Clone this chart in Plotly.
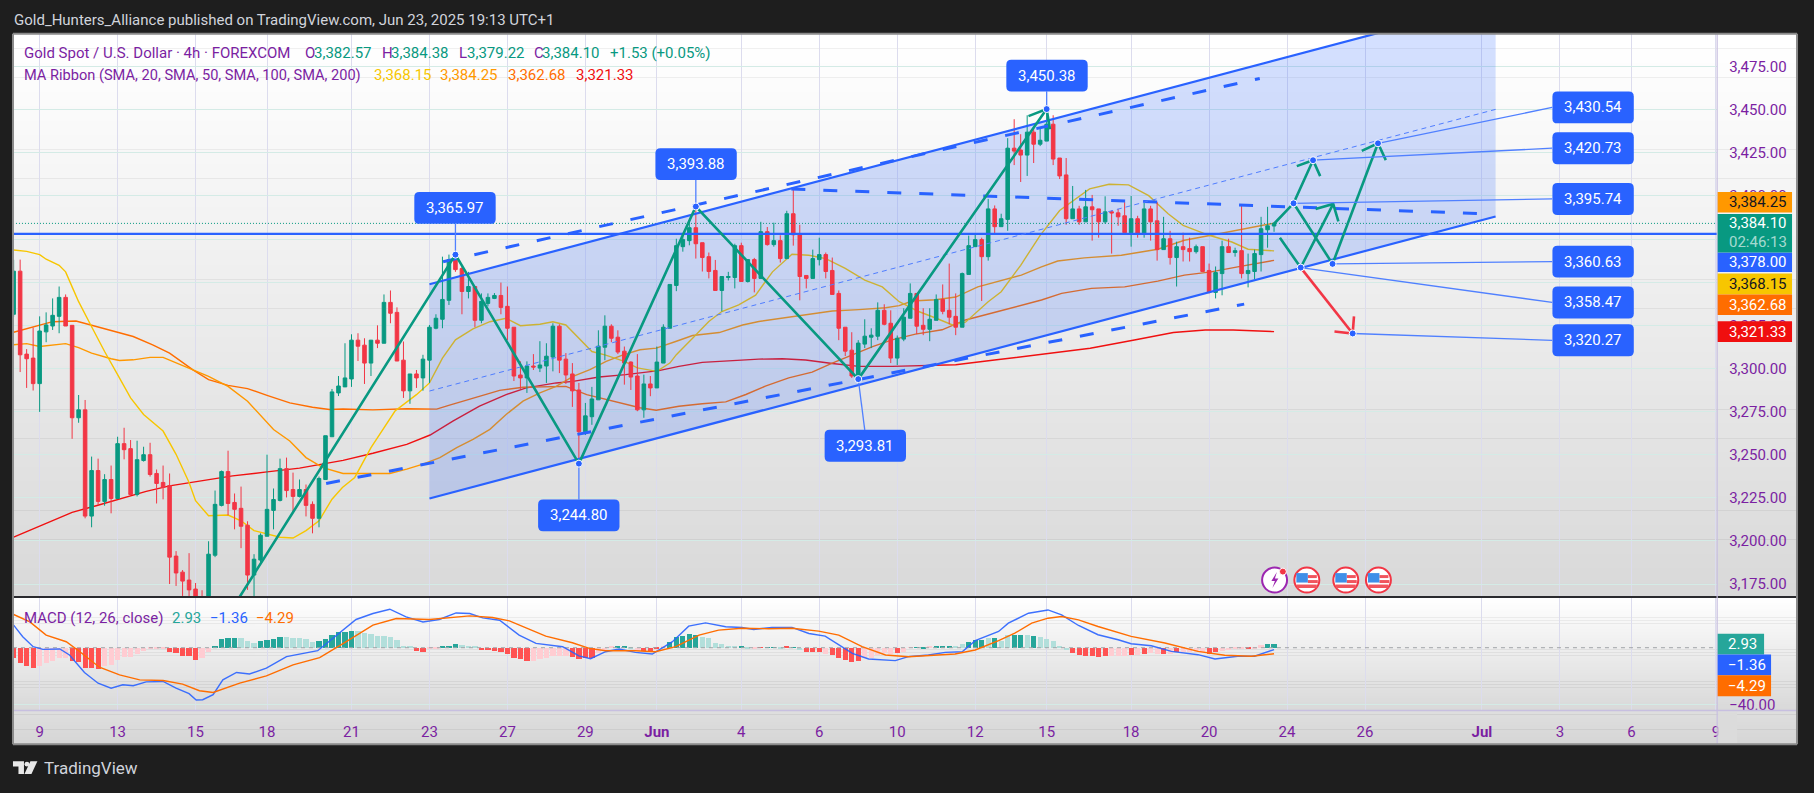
import plotly.graph_objects as go

W, H = 1814, 793
FONT = "Roboto"
PURPLE = "#7b1fa2"
GREEN = "#089981"
RED = "#f23645"
BLUE = "#2962ff"
YELLOW = "#f7c600"
ORANGE = "#ff9800"
DORANGE = "#ff6d00"
MARED = "#f01010"

# ---------------- candles ----------------
opens = [3331.4,3356.4,3308.3,3306,3291.2,3321.2,3324.6,3330.2,3341.2,3325,3271.4,3276,3214.4,3240.8,3222.9,3235.6,3224.6,3256.4,3253.5,3226.9,
3246.6,3250,3239.1,3233.9,3232.1,3191.2,3181.9,3177.3,3172.1,3165,3150,3191.7,3220.6,3240.2,3222.3,3218.9,3209.1,3180.2,3188.9,3202.7,
3217.7,3223.5,3241.9,3229.8,3225.8,3229.8,3221.2,3213.1,3235.6,3260.4,3285.8,3289.3,3293.9,3316.4,3313.5,3303.1,3316.4,3314.6,3338.3,3332.5,
3304.8,3287,3296.8,3294.5,3304.8,3323.3,3328.5,3339.5,3363.1,3357.9,3344.6,3347.5,3327.9,3337.7,3340.6,3342.3,3336,3323.9,3296.2,3294.5,
3301.4,3300.2,3301.4,3306.6,3324.5,3305.4,3296.8,3287.5,3263.3,3272,3281.8,3312.3,3324.5,3318.1,3310,3303.7,3295.6,3276,3291,3288.7,
3303.1,3323.3,3348.1,3370.6,3374.1,3381.6,3372.9,3364.8,3356.8,3345.2,3352.7,3352.7,3371.2,3350.4,3363.1,3352.2,3379.3,3371.8,3374.1,3363.7,
3389.7,3378.1,3353.9,3352.2,3363.1,3366,3356.8,3343.5,3323.9,3310.6,3295.6,3314.1,3318.1,3318.7,3333.7,3326.2,3306,3317,3329.1,3343.5,
3325,3322.7,3327.9,3340,3333.7,3330.2,3323.9,3354.5,3370.6,3374.7,3364.8,3392.5,3382.2,3386.4,3427.7,3426.6,3423.7,3437,3430,3431.8,
3441.6,3422,3412.2,3386.8,3392.5,3385,3393.7,3392.5,3385,3390.8,3390.2,3388.5,3378.7,3386.8,3378.1,3392.5,3385.6,3368.9,3375.2,3364.3,
3370.6,3369.5,3367.7,3370.6,3356.8,3344.1,3355,3370.6,3367.2,3368.3,3355,3356.2,3366,3380.4,3382.57]
highs = [3363,3363.1,3311.2,3323.7,3330.2,3332.5,3340.6,3347.5,3342.9,3325,3284.6,3281.7,3248.9,3247.7,3238.7,3243.7,3260.4,3265.6,3258.5,3258.1,
3254.6,3256.9,3241.4,3243.7,3239.1,3194.1,3183.1,3192.9,3175.6,3171.4,3199.8,3229.2,3240.8,3252.3,3227.5,3231.5,3211.4,3192.3,3204.4,3250,
3230.4,3247.7,3248.3,3239.6,3235.6,3232.7,3222.9,3237.3,3261,3288.1,3295.6,3314.6,3319.8,3320.4,3317.5,3316.4,3325,3342.9,3345.2,3335.4,
3315.6,3296.8,3299.1,3307.9,3325.2,3331.4,3364.8,3366,3365.97,3358.9,3356,3347.5,3343.5,3343.5,3343.7,3349.8,3347.5,3323.9,3304.1,3304.1,
3308.3,3315.8,3314.6,3326.2,3325.6,3308.9,3303.1,3291.6,3280,3289.3,3322.1,3330.8,3325.6,3322.1,3312.7,3304.1,3308.3,3296.4,3295.6,3312.7,
3325.6,3348.7,3375.2,3378.1,3385.8,3393.88,3372.9,3367.2,3362.9,3353.3,3356,3372.3,3372.9,3363.1,3364.1,3385,3382,3384.5,3377.2,3391.4,
3403.5,3383.3,3353.9,3368.9,3375.8,3367.2,3364.3,3345.2,3323.9,3321,3316.4,3328.5,3323.3,3338.3,3337.2,3333.7,3319.1,3334.9,3349.3,3343.5,
3334.9,3334.9,3342.9,3348.7,3360.8,3343.5,3355.6,3377,3377.5,3375.8,3398.3,3394.5,3389.7,3433.5,3444.5,3435.8,3446.8,3439.7,3439.8,3450.38,
3446.8,3422,3422,3405.8,3394.3,3403.5,3400.6,3392.5,3399.8,3391.6,3392.5,3396.4,3400,3388.5,3397.2,3394.3,3396.6,3387.9,3379.8,3373.5,
3378.7,3375.8,3371.8,3370.6,3360.8,3359.1,3374.1,3375.2,3370,3394.8,3366.6,3368.9,3387.9,3393.7,3384.38]
lows = [3330,3297.9,3288.7,3287.2,3274.8,3315.2,3322.3,3320.4,3324.6,3259.2,3268.5,3213.1,3207.9,3221,3220.4,3216,3224.2,3247.3,3226.9,3225.8,
3246,3237.3,3221.7,3224.1,3175,3173.9,3168.1,3165,3150,3148,3140,3190.6,3220,3214.8,3206.7,3195.8,3171.6,3165,3187.7,3202.7,
3206.7,3222.9,3225.2,3217.1,3225.2,3214.2,3204.4,3207.9,3235.6,3260.4,3284,3289.3,3289.3,3304.3,3291,3295.6,3311.8,3314.6,3326.2,3304.3,
3282.9,3279.5,3288.7,3287.1,3291.6,3322.7,3323.3,3336.8,3356,3331.4,3340.6,3323.9,3326.2,3336,3340.2,3331.4,3316.4,3292.7,3288.1,3285.8,
3299.1,3297.9,3291.6,3298.3,3297.3,3291,3277.7,3244.8,3261.4,3267.3,3281.8,3304.8,3315.2,3308.3,3290.6,3287.5,3275.2,3271.4,3283.9,3288.7,
3303.1,3323.3,3344.8,3367.7,3371.4,3363.7,3356.2,3352.2,3345.2,3333.1,3351,3346.4,3350.2,3349.8,3344.1,3352.2,3371.2,3370.6,3361.4,3363.7,
3371.2,3339.5,3346.4,3352.2,3359.7,3352.2,3342.9,3316.4,3307.2,3294.5,3294.5,3311.8,3311.8,3316.4,3325,3303.1,3302,3315.8,3329.1,3319.9,
3319.3,3315.8,3327.9,3331.4,3325.6,3319.3,3323.9,3354.5,3370.6,3339.1,3362.5,3378.3,3382.2,3379.8,3417.9,3408.1,3411.6,3419.1,3428.9,3431.8,
3417.9,3409.8,3383.3,3386.8,3383.3,3385,3374.1,3375.8,3383.9,3366.6,3382.7,3378.7,3370.6,3375.8,3375.8,3374.1,3362.5,3368.9,3360.2,3347.5,
3362,3362,3366.6,3356.2,3343.5,3340.6,3342.4,3367.2,3364.8,3352.2,3347,3351.6,3356.2,3370,3379.22]
closes = [3356.4,3307.9,3305.6,3291.2,3321.7,3325.2,3330.8,3341.2,3324.6,3271.4,3276,3214.4,3240.8,3222.9,3235.6,3224.6,3256.4,3252.9,3226.9,3247.1,
3250,3238.5,3233.3,3231,3190.6,3181.4,3176.7,3171.6,3160,3155,3192.3,3221.2,3240.2,3221.7,3218.3,3208.5,3180.2,3189.4,3203.3,3218.3,
3224,3241.9,3229.2,3225.8,3229.8,3220.6,3213.1,3236.2,3261,3286.4,3289.8,3294.5,3316.4,3312.9,3303.1,3316.4,3314.6,3338.3,3332,3304.3,
3287,3296.8,3294.5,3305.4,3323.9,3329.1,3340,3363.1,3357.3,3344.6,3347.5,3327.9,3338.9,3341.2,3342.3,3335.4,3323.3,3295.6,3294.5,3301.4,
3300.8,3302,3307.1,3324.5,3304.8,3296.2,3287,3263.3,3272.5,3282.3,3312.9,3324.5,3317.5,3309.5,3303.1,3295,3276,3291,3288.7,3303.7,
3323.9,3348.7,3371.2,3374.7,3381.6,3372.3,3364.3,3356.2,3345.2,3353.3,3353.3,3371.2,3350.4,3363.1,3352.2,3379.3,3371.8,3374.1,3363.7,3389.7,
3377.5,3353.3,3352.2,3363.7,3366,3356.2,3342.9,3323.3,3310,3295.6,3314.7,3318.7,3319.3,3333.7,3325.6,3306,3317.5,3329.7,3343.5,3324.5,
3322.7,3328.5,3340,3333.1,3329.7,3323.9,3355,3371.2,3374.7,3364.8,3392.5,3382.2,3386.8,3427.7,3426,3423.7,3437,3430,3432.3,3441.6,
3421.4,3411.6,3386.8,3392.5,3385,3393.7,3392,3385,3390.8,3390.2,3387.9,3378.7,3386.8,3378.1,3392.5,3385,3368.9,3375.2,3364.3,3370.6,
3368.9,3367.7,3370.6,3356.2,3344.1,3355.6,3370.6,3367.2,3368.3,3355,3356.8,3366.6,3381,3382.7,3384.1]
bars = list(range(len(closes)))

# ---------------- moving averages ----------------
sma20_x = [0,2,4,5,7,8,9,10,12,14,16,18,20,23,25,27,28,30,33,35,37,39,41,43,45,47,49,50.6,52.5,55,58.7,62,64,66,68,70.7,73.3,75.8,78,81,83,85,87,89,91,94,96,99,101,102,104.5,107,109,111.6,114.2,116.8,119.8,122.4,125,128,131,133.7,136.3,139.3,142,144.5,146.5,149,150,152,155,158,161,165.6,168.6,171.6,174.7,177.7,180,184,187.5,190,194]
sma20_y = [3368.7,3367.9,3366,3363.3,3359.8,3356,3347.3,3338.7,3324.2,3309.8,3296.4,3282.9,3273.3,3263.7,3250.2,3233.9,3223.3,3214.6,3215,3211.7,3206,3204,3202.1,3201.7,3206,3211.7,3224.2,3231,3236.8,3254.1,3275.3,3284.8,3291.6,3306,3316.6,3322.9,3327.1,3329.1,3324.8,3325.6,3327.1,3325.2,3317.5,3309.8,3307.9,3304.1,3300.3,3298.3,3303.1,3308,3317.5,3327.2,3333,3336.8,3342.5,3356,3366.2,3365.6,3363.7,3358,3351.2,3347.3,3338.7,3333,3329.1,3325.2,3326.8,3335,3338.7,3344.5,3359.8,3377.2,3391.6,3404.1,3406.8,3406.4,3400.2,3389.7,3383,3377.2,3373.3,3369.1,3368.15]
sma50_x = [0,2,4,6,8,10,12,15,16.3,18.4,21,23,25,27.6,30,33,36,40,42.5,45,47.6,50.7,53.3,57.9,60.5,63,65.6,68.2,70.7,73.3,75.8,78.4,81,83.5,86.1,88.7,91.2,93.8,96.4,98.9,101.9,104.5,108.6,112.2,114.7,118.3,121.9,126,130.1,134.2,136.3,138.3,141.9,145,148.4,151.5,155.1,158.2,160.7,164.8,170.5,176.1,180.2,184.3,188.4,194]
sma50_y = [3313.7,3314.4,3312.7,3313.7,3314.4,3312.1,3308.9,3305.6,3304.6,3305,3306.4,3306.4,3303.1,3299.2,3295.4,3289.6,3281,3264.6,3257.9,3248.3,3242.5,3239.1,3239.1,3239.1,3241.6,3244.5,3248.3,3254.1,3258.9,3264.7,3273.3,3281,3285.8,3289.6,3295.4,3299.3,3304.1,3307.9,3310.8,3311.8,3315.6,3319.1,3320.8,3325.2,3327.2,3329.1,3331.4,3333.3,3334.1,3335.2,3336.4,3339.1,3339.8,3341.4,3347.3,3350.6,3354.1,3358.9,3362.3,3364.1,3365.6,3369.1,3374.3,3377.2,3380,3384.25]
sma100_x = [0,3,6,9.6,12.2,15.3,18.4,21.4,24,27.6,30,33,36,39,42.5,46,48.6,50.7,55.3,60.5,65.1,67.1,70.7,74.8,78.4,82,85,88.2,91.2,93.8,96.4,98.9,102.4,106,109.6,112.7,115.7,119.3,122.9,126,129.1,132.2,135.2,138.8,142.9,146.5,151.5,155.1,158.2,161.3,165.9,171,176.1,180.2,184.3,188.4,194]
sma100_y = [3321,3324.2,3327.1,3327.5,3324.8,3321.4,3318.5,3313.7,3308.9,3299.2,3293.5,3290.2,3288.3,3284.4,3280,3277.5,3276.2,3276.5,3276,3276.6,3276.4,3278.7,3282.9,3287.3,3289.1,3289.6,3289.6,3284.8,3282,3280,3277.2,3275.8,3278.1,3279.5,3280.6,3284.9,3289.7,3294.5,3297.9,3303.1,3307.9,3312.7,3316.6,3319.9,3322.4,3328.1,3333,3336.8,3339.7,3343.5,3346.4,3347.3,3350.6,3354.1,3356,3358.9,3362.68]
sma200_x = [0,4.5,9,12.7,16.3,20.4,24,28,33.7,39,44,50.7,55.3,60.5,64.1,67.6,71.7,75.8,78.9,83.5,86.1,90.1,94.2,99.3,102.4,106,110.6,114.7,118.3,121.9,126,130.1,135.2,139,145,151.3,157.3,165.7,172.5,178.5,183.4,187.7,194]
sma200_y = [3202.2,3209.4,3216.6,3220.4,3224.2,3228.7,3231.9,3234.2,3237.7,3240,3242.2,3246.7,3250.8,3256,3261.4,3269.5,3278.1,3284.8,3288.7,3291.6,3292.5,3295,3296.4,3298.7,3301.2,3303.5,3304.5,3305.4,3305.6,3304.9,3302.9,3301.2,3301.2,3301.5,3302.1,3305,3307.9,3311.7,3316.5,3320.8,3322.3,3322.3,3321.33]

# ---------------- MACD ----------------
macd_x = [0,1.4,3,4.5,7.1,8.6,10.9,13,15,16.8,18.4,20.4,23,25,27,28.1,29.1,30.7,32.2,34.3,36.3,38.9,42,44.5,46.8,49.1,52.7,55.3,57.9,60.4,63,65.5,68.1,70.2,72.2,74.8,76.8,77.8,80.4,82.4,84.5,87,88.8,91.1,93.2,95.7,98.3,101.4,103.9,106.5,109.6,112.1,113.9,116.7,119.8,122.4,124.9,129.1,131.6,135.7,137.7,140.8,143.4,146,148,151.6,153.1,156.2,159.2,161.3,163.9,166.9,170,172,175.1,178.2,182.3,184.9,188.4,191,194]
macd_y = [15.8,7.7,.7,-1.2,-.9,-5.1,-17.4,-24.9,-28.4,-26,-26.7,-24,-23.7,-28.4,-32.3,-36.7,-36.5,-33,-22.6,-17.4,-18.4,-14.4,-6.3,-4,-2.1,6.5,19.8,24,27,21.6,18.1,19.8,24.4,24,20.9,19.3,12.3,8.8,3,1.9,.7,-5.8,-7.7,-2.8,-.9,-3.3,-4.4,4.2,15.1,17.4,14.7,14.2,12.8,14.2,14.2,10,8.1,-4,-7.9,-9.1,-6.3,-5.1,-3.3,-2.8,4.9,11.4,17.2,24.2,26.5,23,15.6,9.1,5.6,2.8,1.4,-2.6,-4.9,-7.9,-6,-6,-1.36]
signal_x = [0,2.5,5,8.1,10.2,13.2,16.3,19.4,23,26,28.6,30.7,34.8,38.9,43,47.1,51.2,55.3,58.9,64,70.2,73.7,76.3,79.3,81.9,86,88.6,91.1,95.7,98.8,101.9,105.5,108.5,112.1,116.2,119.8,123.9,127,130.6,134.2,137.7,144.9,148,151.6,154.1,156.7,159.2,161.3,163.9,166.9,172,177.2,182.3,186.4,190.5,194]
signal_y = [23.3,18.1,8.8,4.2,-2.8,-13.7,-19.1,-22.6,-23,-25.6,-30.2,-31.4,-24.9,-19.8,-12.1,-7,4.2,15.8,20.5,19.8,22.3,21.2,18.8,13,8.1,3.5,-.5,-2.1,-2.1,-2.8,.7,8.8,12.3,13.7,13.3,13.7,11.6,8.8,.7,-5.1,-6.3,-4.4,-1.6,4.9,10.2,17.2,20.7,21.9,19.5,14.9,7.9,3.3,-2.6,-5.3,-6,-4.29]
hist = [-7,-10.7,-12.6,-14,-12.6,-10.9,-9.1,-7,-7,-9.1,-9.8,-14.2,-14.2,-14.7,-12.6,-12.1,-8.6,-6.3,-6.3,-4.2,-2.3,-1.2,-1.2,-.7,-2.8,-4,-5.6,-5.6,-8.4,-7,-3.3,
1.4,5.8,7,7,7,4.9,3.5,4.4,5.6,6,7.7,7.7,7,7,5.8,4.2,4.9,6.3,9.1,10.7,11.2,11.9,11.9,10,9.3,8.4,8.4,7.7,5.3,1.4,.7,
-2.3,-2.8,-1.2,-1.2,.7,1.4,2.8,2.1,1.2,.7,-1.6,-1.9,-2.6,-3.3,-4.7,
-7,-8.1,-9.1,-9.1,-8.1,-7.4,-5.8,-5.8,-5.8,-6.3,-7.7,-7,-7.2,-4,-1.6,.7,.7,.7,-.2,-2.3,-2.3,-2.3,-1.2,1.4,4.2,7.2,8.4,9.8,8.8,7.7,6.5,3.5,2.6,1.2,1.4,.7,-.5,-1.2,.2,.2,.2,-1.2,.7,.2,-1.9,-3.3,-3.3,-3.3,-4.2,-4.9,-7,-8.4,-10.2,-9.3,-7.4,-7.4,-5.3,-4,-4.7,-4,-2.8,.2,.2,-.2,.7,1.4,1.4,1.2,.7,2.8,4.2,5.6,5.3,7,7,
4.9,8.6,9.1,9.1,9.1,7.9,7.2,6.3,4.4,1.4,-1.9,-3.7,-5.3,-6,-6,-6.7,-6,-6,-6,-6,-5.1,-5.3,-4.4,-3.7,-4.7,-4.4,-4.7,-3.3,-3.3,-3.3,-3.3,-4,-4.4,-3.3,-2.3,-1.6,-.9,-1.2,-.7,-.2,1.6,2.3,2.93]
# D = strong red, L = pale red, G = strong green, P = pale green
hist_tone = ("DDDDLLLLLDDDDDLLLLLLLLLLDDDDDLL" "GGGGPPPGGGGPPPPPGGGGGGPPPPPPPPP" "DDLLGGGPPPDDDDD"
             "DDDLLLLLLDDDDLLLGGPLDDDLGGGGGPPPPPPGPLDGGPDGPDDDLDDDDDLLLLLDLLGGLGGGPPGGGPGP"
             "PGGPGPPPPPDDDDDDLLLDLDLLDLDLLLLDDLLLLDLLGGG")

# ---------------- axes ----------------
day_ticks = [4,16,28,39,52,64,76,88,99,112,124,136,148,159,172,184,196,208,226,238,249,262]
day_labels = ["9","13","15","18","21","23","27","29","<b>Jun</b>","4","6","10","12","15","18","20","24","26","<b>Jul</b>","3","6","9"]
price_ticks = [3175,3200,3225,3250,3275,3300,3325,3350,3375,3400,3425,3450,3475]
macd_ticks = [-40]
X_RANGE = [-0.103, 262.2]
Y_RANGE = [3167.5, 3494]
M_RANGE = [-44, 35.6]

# ---------------- drawings (bar index, price) ----------------
channel_top_x, channel_top_y = [64, 228.1], [3348.8, 3512.5]
channel_low_x, channel_low_y = [64, 228.1], [3224.6, 3388.1]
dash_top_x, dash_top_y = [66.1, 191.8], [3361.9, 3468.1]
dash_low_x, dash_low_y = [48.1, 189.4], [3233.3, 3337.3]
mid_x, mid_y = [64, 228.1], [3286.9, 3450.2]
flat_x, flat_y = [119.7, 227], [3404, 3389.6]
last_close = 3384.10
level = 3378.00

zig_x = [28.6, 68, 87, 105, 130, 159]
zig_y = [3130.6, 3365.97, 3244.80, 3393.88, 3293.81, 3450.38]
zig_head_x, zig_head_y = [156.2, 159, 159.5], [3446.3, 3450.38, 3438.7]
fc1_x, fc1_y = [194, 197, 200], [3383.9, 3395.74, 3420.73]
fc1_head_x, fc1_head_y = [197.5, 200, 201.1], [3417.3, 3420.73, 3411.5]
fc2_x, fc2_y = [197, 203], [3395.74, 3360.63]
fc3_x, fc3_y = [194.9, 198.1, 203.1], [3375.8, 3358.47, 3395.4]
fc3_head_x, fc3_head_y = [200.4, 203.1, 203.9], [3392.5, 3395.4, 3385.2]
fc4_x, fc4_y = [203, 210], [3360.63, 3430.54]
fc4_head_x, fc4_head_y = [207.5, 210, 211.2], [3426.1, 3430.54, 3420.8]
down_x, down_y = [198.1, 206.1], [3358.47, 3320.27]
down_head_x, down_head_y = [203.3, 206.1, 206.3], [3321.4, 3320.27, 3330.2]

# callouts: anchor bar, anchor price, leader end bar, leader end price
call_x = [68, 105, 87, 159, 130, 210, 200, 197, 203, 198.1, 206.1]
call_y = [3365.97, 3393.88, 3244.80, 3450.38, 3293.81, 3430.54, 3420.73, 3395.74, 3360.63, 3358.47, 3320.27]
lead_x = [68, 105, 87, 159, 131, 236.8, 236.8, 236.8, 236.8, 236.8, 236.8]
lead_y = [3383.8, 3409.2, 3224, 3460.6, 3264.4, 3451.3, 3427.7, 3398.3, 3361.9, 3338.3, 3316.3]
call_text = ["3,365.97","3,393.88","3,244.80","3,450.38","3,293.81","3,430.54","3,420.73","3,395.74","3,360.63","3,358.47","3,320.27"]


def fx(x): return x / W
def fy(y): return 1 - y / H


fig = go.Figure()
shapes, annos = [], []


def rect(x0, y0, x1, y1, fill, layer="below", line=None, lw=0):
    shapes.append(dict(type="rect", xref="paper", yref="paper", x0=fx(x0), x1=fx(x1), y0=fy(y1), y1=fy(y0),
                       fillcolor=fill, layer=layer, line=dict(width=lw, color=line or fill)))


def hline(x0, x1, y, color, lw=1, layer="above"):
    shapes.append(dict(type="line", xref="paper", yref="paper", x0=fx(x0), x1=fx(x1), y0=fy(y), y1=fy(y),
                       layer=layer, line=dict(color=color, width=lw)))


def vline(x, y0, y1, color, lw=1, layer="above"):
    shapes.append(dict(type="line", xref="paper", yref="paper", x0=fx(x), x1=fx(x), y0=fy(y0), y1=fy(y1),
                       layer=layer, line=dict(color=color, width=lw)))


def txt(x, y, s, color, size=15, anchor="left"):
    annos.append(dict(xref="paper", yref="paper", x=fx(x), y=fy(y), text=s, showarrow=False, xanchor=anchor,
                      yanchor="middle", borderpad=0, font=dict(family=FONT, size=size, color=color)))


def rounded(x0, y0, x1, y1, r, fill):
    p = (f"M {fx(x0+r)} {fy(y0)} L {fx(x1-r)} {fy(y0)} Q {fx(x1)} {fy(y0)} {fx(x1)} {fy(y0+r)} "
         f"L {fx(x1)} {fy(y1-r)} Q {fx(x1)} {fy(y1)} {fx(x1-r)} {fy(y1)} "
         f"L {fx(x0+r)} {fy(y1)} Q {fx(x0)} {fy(y1)} {fx(x0)} {fy(y1-r)} "
         f"L {fx(x0)} {fy(y0+r)} Q {fx(x0)} {fy(y0)} {fx(x0+r)} {fy(y0)} Z")
    shapes.append(dict(type="path", xref="paper", yref="paper", path=p, fillcolor=fill, layer="above", line=dict(width=0)))


def gradient(y0, y1, g0, g1):
    n = max(1, g0 - g1 + 1)
    for k in range(n):
        g = g0 - k
        a = y0 + (y1 - y0) * k / n
        b = y0 + (y1 - y0) * (k + 1) / n
        rect(13, a, 1800, b + 0.5, f"rgb({g},{g},{g})")


# ---- backgrounds
gradient(34, 600, 255, 217)
gradient(600, 714, 255, 217)
gradient(714, 748, 222, 214)

# ---- base subplot: moving averages and channel fill
for xs, ys, col in [(sma200_x, sma200_y, MARED), (sma100_x, sma100_y, DORANGE), (sma50_x, sma50_y, ORANGE), (sma20_x, sma20_y, YELLOW)]:
    fig.add_trace(go.Scatter(x=xs, y=ys, mode="lines", line=dict(color=col, width=1.4), xaxis="x", yaxis="y", hoverinfo="skip"))

fig.add_trace(go.Scatter(
    x=channel_top_x + channel_low_x[::-1], y=channel_top_y + channel_low_y[::-1], fill="toself",
    fillcolor="rgba(41,98,255,0.2)", mode="none", xaxis="x", yaxis="y", hoverinfo="skip"))

# ---- overlay 1: candles
fig.add_trace(go.Candlestick(
    x=bars, open=opens, high=highs, low=lows, close=closes, xaxis="x3", yaxis="y3",
    increasing=dict(line=dict(color=GREEN, width=1), fillcolor=GREEN),
    decreasing=dict(line=dict(color=RED, width=1), fillcolor=RED),
    whiskerwidth=0, hoverinfo="skip"))


# ---- overlay 2: drawings
def over(xs, ys, color, width, dash=None, mode="lines", **kw):
    fig.add_trace(go.Scatter(x=xs, y=ys, mode=mode, line=dict(color=color, width=width, dash=dash),
                             xaxis="x4", yaxis="y4", hoverinfo="skip", **kw))


over(X_RANGE, [last_close, last_close], GREEN, 1, "1px,2px")
over(X_RANGE, [level, level], BLUE, 2.2)
over(channel_top_x, channel_top_y, BLUE, 2.2)
over(channel_low_x, channel_low_y, BLUE, 2.2)
over(dash_top_x, dash_top_y, BLUE, 3, "14px,18px")
over(dash_low_x, dash_low_y, BLUE, 3, "14px,18px")
over(flat_x, flat_y, BLUE, 3, "14px,18px")
over(mid_x, mid_y, "#4f7dff", 1, "5px,4px")
for a, b in [(zig_x, zig_y), (zig_head_x, zig_head_y), (fc1_x, fc1_y), (fc1_head_x, fc1_head_y), (fc2_x, fc2_y),
             (fc3_x, fc3_y), (fc3_head_x, fc3_head_y), (fc4_x, fc4_y), (fc4_head_x, fc4_head_y)]:
    over(a, b, GREEN, 2.6)
over(down_x, down_y, RED, 2.6)
over(down_head_x, down_head_y, RED, 2.6)
for xa, ya, xb, yb in zip(call_x, call_y, lead_x, lead_y):
    over([xa, xb], [ya, yb], "#5080ff", 1.3)
fig.add_trace(go.Scatter(x=call_x, y=call_y, mode="markers", xaxis="x4", yaxis="y4", hoverinfo="skip",
                         marker=dict(size=7, color=BLUE, line=dict(color="white", width=1))))

# ---- MACD pane
TONE = {"D": "#ff5252", "L": "#ffcdd2", "G": "#26a69a", "P": "#b2dfdb"}
fig.add_trace(go.Bar(x=bars, y=hist, width=0.8, marker=dict(color=[TONE[c] for c in hist_tone], line=dict(width=0)),
                     xaxis="x2", yaxis="y2", hoverinfo="skip"))
fig.add_trace(go.Scatter(x=X_RANGE, y=[0, 0], mode="lines", line=dict(color="#a0a4a8", width=1, dash="4px,4px"),
                         xaxis="x2", yaxis="y2", hoverinfo="skip"))
fig.add_trace(go.Scatter(x=macd_x, y=macd_y, mode="lines", line=dict(color=BLUE, width=1.4), xaxis="x2", yaxis="y2", hoverinfo="skip", opacity=0.9))
fig.add_trace(go.Scatter(x=signal_x, y=signal_y, mode="lines", line=dict(color=DORANGE, width=1.4), xaxis="x2", yaxis="y2", hoverinfo="skip"))

# ---- frame and separators
hline(13, 1800, 600, "#2a2a2e", 2)
hline(13, 1800, 714, "#c7bfe0", 1.5)
vline(1720, 34, 748, "#c7bfe0", 1.2)
rect(1721, 716, 1740, 747, "#dbdbdb", layer="above")
hline(13, 1800, 34, "#8a8a8a", 2)
hline(13, 1800, 748, "#8a8a8a", 2)
vline(13, 34, 748, "#8a8a8a", 2)
vline(1800, 34, 748, "#8a8a8a", 2)

# ---- callout boxes
boxes = [(415, 193), (656.5, 149), (539, 502), (1008, 60), (826, 432), (1555, 92), (1555, 133), (1555, 184), (1555, 247), (1555, 288), (1555, 326)]
for (bx, by), s in zip(boxes, call_text):
    rounded(bx, by, bx + 81.5, by + 32, 5, BLUE)
    txt(bx + 40.7, by + 16, s, "#ffffff", 15, "center")

# ---- price flags
flags = [(193, 213.7, "#ff9800", "3,384.25", "#131722"), (253.7, 273.5, BLUE, "3,378.00", "#ffffff"),
         (275, 296, YELLOW, "3,368.15", "#131722"), (296, 316.7, DORANGE, "3,362.68", "#ffffff"),
         (323, 343.7, "#f00f0f", "3,321.33", "#ffffff")]
for y0, y1, col, s, tc in flags:
    rect(1720.5, y0, 1795, y1, col, layer="above")
    txt(1731, (y0 + y1) / 2, s, tc, 15)
rect(1720.5, 215, 1795, 253.7, GREEN, layer="above")
txt(1731, 224.5, "3,384.10", "#ffffff", 15)
txt(1731, 243, "02:46:13", "rgba(255,255,255,0.65)", 15)
for y0, y1, xr, col, s in [(637, 657.7, 1767, "#26a69a", "2.93"), (657.7, 678.7, 1774, BLUE, "−1.36"), (678.7, 699.7, 1774, DORANGE, "−4.29")]:
    rect(1720.5, y0, xr, y1, col, layer="above")
    txt(1730, (y0 + y1) / 2, s, "#ffffff", 15)

# ---- legends and captions
txt(13, 20, "Gold_Hunters_Alliance published on TradingView.com, Jun 23, 2025 19:13 UTC+1", "#d1d4dc", 15)
for x, s, c in [(23, "Gold Spot / U.S. Dollar · 4h · FOREXCOM", PURPLE), (304.6, "O", PURPLE), (314, "3,382.57", GREEN),
                (382, "H", PURPLE), (391, "3,384.38", GREEN), (459, "L", PURPLE), (467, "3,379.22", GREEN),
                (534, "C", PURPLE), (542, "3,384.10", GREEN), (610, "+1.53 (+0.05%)", GREEN)]:
    txt(x, 53, s, c)
txt(23, 75, "MA Ribbon (SMA, 20, SMA, 50, SMA, 100, SMA, 200)", PURPLE, 14.6)
for x, s, c in [(373.5, "3,368.15", YELLOW), (440, "3,384.25", ORANGE), (507.6, "3,362.68", DORANGE), (575.5, "3,321.33", MARED)]:
    txt(x, 75, s, c)
for x, s, c in [(23, "MACD (12, 26, close)", PURPLE), (171, "2.93", "#26a69a"), (209.7, "−1.36", BLUE), (255, "−4.29", DORANGE)]:
    txt(x, 621, s, c)
txt(43, 771.5, "TradingView", "#d1d4dc", 17)

# ---- TradingView logo
for p in ["M 13 765 L 24 765 L 24 778 L 18.5 778 L 18.5 770.5 L 13 770.5 Z",
          "M 30.5 765 L 37.5 765 L 31.5 778 L 24.5 778 Z"]:
    q = p.split()
    out, i = [], 0
    while i < len(q):
        if q[i] in "MLZ":
            out.append(q[i]); i += 1
            if out[-1] != "Z":
                out.append(f"{fx(float(q[i]))} {fy(float(q[i+1]))}"); i += 2
    shapes.append(dict(type="path", xref="paper", yref="paper", path=" ".join(out), fillcolor="#e8e8e8", layer="above", line=dict(width=0)))
shapes.append(dict(type="circle", xref="paper", yref="paper", x0=fx(24.6), x1=fx(29.4), y0=fy(770.4), y1=fy(765.6), fillcolor="#e8e8e8", layer="above", line=dict(width=0)))


# ---- event icons
def circle(cx, cy, r, fill, line=None, lw=0):
    shapes.append(dict(type="circle", xref="paper", yref="paper", x0=fx(cx-r), x1=fx(cx+r), y0=fy(cy+r), y1=fy(cy-r),
                       fillcolor=fill, layer="above", line=dict(color=line or fill, width=lw)))


for cx in [1309, 1348, 1380.7]:
    circle(cx, 583, 12.5, "#ffffff", RED, 2)
    rect(cx - 10, 587.5, cx + 10, 591, "#f0555d", layer="above")
    rect(cx + 1, 578, cx + 10, 581, "#f0555d", layer="above")
    rect(cx + 1, 583, cx + 11, 586, "#f0555d", layer="above")
    rect(cx - 10.5, 576, cx + 1, 585.5, "#3f8fe8", layer="above")
circle(1276.7, 583, 12.5, "#ffffff", "#9c27b0", 2)
lx = [1279, 1273.5, 1277, 1274.5, 1280.5, 1277, 1279]
ly = [575, 584, 584, 591, 581.5, 581.5, 575]
shapes.append(dict(type="path", xref="paper", yref="paper", layer="above", fillcolor="#9c27b0", line=dict(width=0),
                   path="M " + " L ".join(f"{fx(a)} {fy(b)}" for a, b in zip(lx, ly)) + " Z"))
circle(1285, 574.5, 3.5, RED, "#ffffff", 1)

# ---- layout
YM = [fy(600), fy(34)]
YD = [fy(714), fy(600)]
XD = [fx(13), fx(1720)]
tick_font = dict(family=FONT, size=15, color=PURPLE)
GRIDV = "#dcdcee"
GRIDH = "#d4ebe6"
hidden = dict(visible=False, showgrid=False, zeroline=False, fixedrange=True)
fig.update_layout(
    width=W, height=H, margin=dict(l=0, r=0, t=0, b=0), showlegend=False, autosize=False,
    paper_bgcolor="#1e1e1e", plot_bgcolor="rgba(0,0,0,0)", bargap=0, boxgap=0.22,
    font=dict(family=FONT), shapes=shapes, annotations=annos,
    xaxis=dict(domain=XD, range=X_RANGE, anchor="y", tickvals=day_ticks, showticklabels=False, ticks="",
               showgrid=True, gridcolor=GRIDV, gridwidth=1, zeroline=False, showline=False, fixedrange=True),
    yaxis=dict(domain=YM, range=Y_RANGE, anchor="x", side="right", tickvals=price_ticks, tickformat=",.2f",
               tickfont=tick_font, ticks="outside", ticklen=8, tickcolor="rgba(0,0,0,0)", showgrid=True,
               gridcolor=GRIDH, gridwidth=1, zeroline=False, showline=False, fixedrange=True),
    xaxis2=dict(domain=XD, range=X_RANGE, anchor="y2", tickvals=day_ticks, ticktext=day_labels, tickfont=tick_font,
                ticks="outside", ticklen=8, tickcolor="rgba(0,0,0,0)", tickangle=0, showgrid=True, gridcolor=GRIDV,
                gridwidth=1, zeroline=False, showline=False, fixedrange=True),
    yaxis2=dict(domain=YD, range=M_RANGE, anchor="x2", side="right", tickvals=macd_ticks, tickformat=",.2f",
                tickfont=tick_font, ticks="outside", ticklen=8, tickcolor="rgba(0,0,0,0)", showgrid=True,
                gridcolor=GRIDH, gridwidth=1, zeroline=False, showline=False, fixedrange=True),
    xaxis3=dict(domain=XD, range=X_RANGE, anchor="y3", overlaying="x", rangeslider=dict(visible=False), **hidden),
    yaxis3=dict(domain=YM, range=Y_RANGE, anchor="x3", overlaying="y", **hidden),
    xaxis4=dict(domain=XD, range=X_RANGE, anchor="y4", overlaying="x", **hidden),
    yaxis4=dict(domain=YM, range=Y_RANGE, anchor="x4", overlaying="y", **hidden),
)

fig.write_html("out.html", config=dict(displayModeBar=False),
               post_script="document.body.style.margin='0';document.body.style.background='#1e1e1e';document.body.style.overflow='hidden';")
